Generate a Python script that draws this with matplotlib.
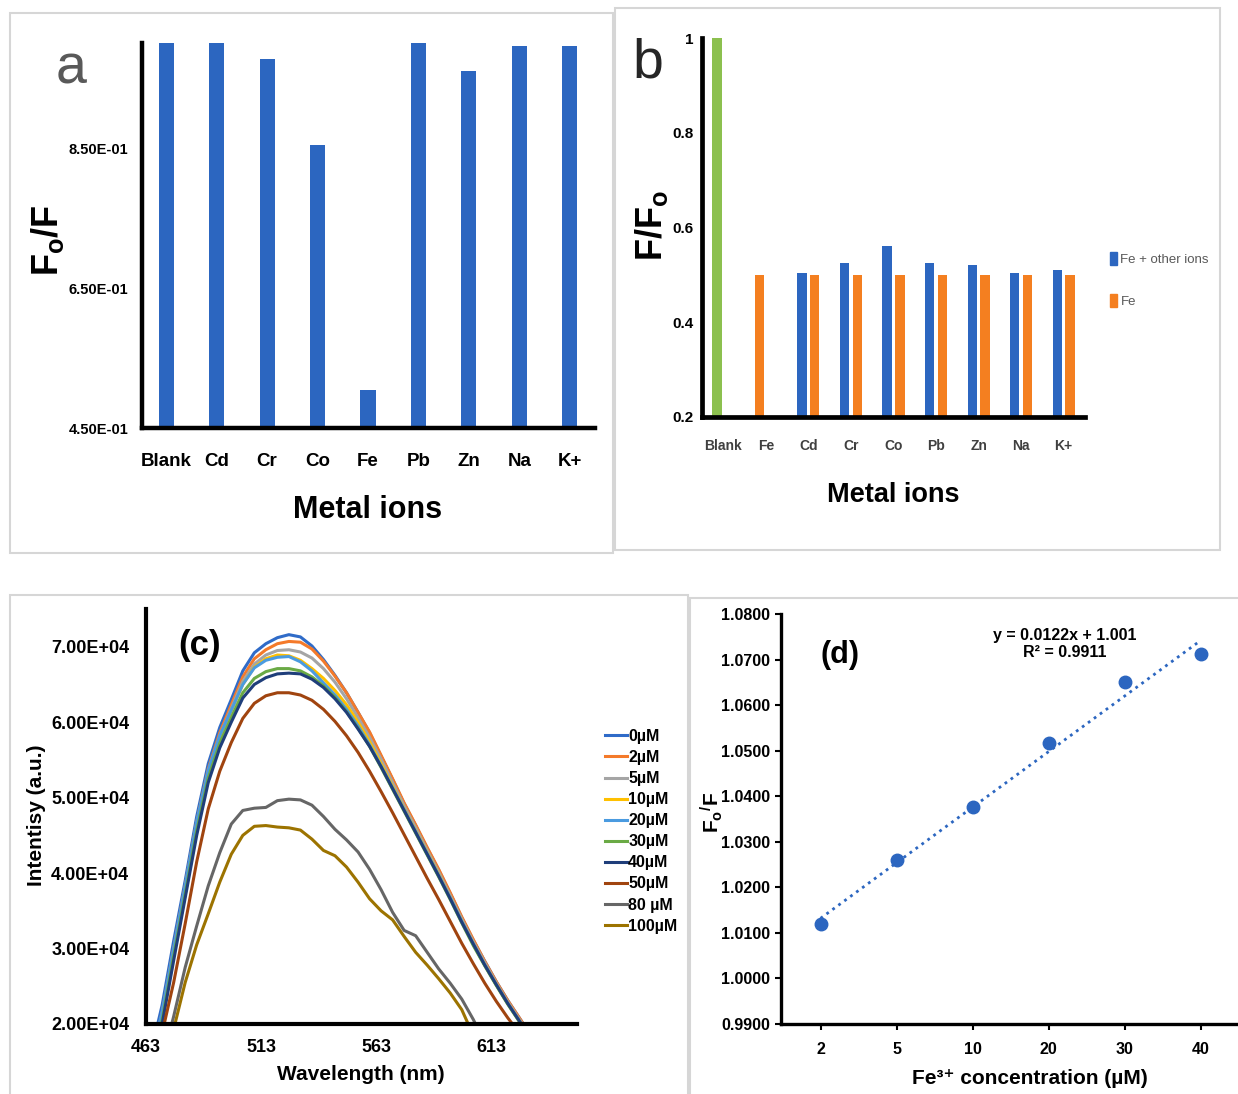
import numpy as np
import matplotlib
matplotlib.use("Agg")
import matplotlib.pyplot as plt
from matplotlib.patches import Rectangle, Patch

W, H = 1238, 1094

# ---- panel a: Fo/F for single ions
ions_a = ["Blank", "Cd", "Cr", "Co", "Fe", "Pb", "Zn", "Na", "K+"]
fof_a = [1.0, 1.0, 0.977, 0.855, 0.505, 1.0, 0.960, 0.996, 0.996]

# ---- panel b: F/Fo, Fe + other ions vs Fe alone
ions_b = ["Blank", "Fe", "Cd", "Cr", "Co", "Pb", "Zn", "Na", "K+"]
mix_b = [1.0, 0.5, 0.503, 0.526, 0.561, 0.526, 0.521, 0.503, 0.511]
fe_b = [np.nan, np.nan, 0.5, 0.5, 0.5, 0.5, 0.5, 0.5, 0.5]

# ---- panel c: emission spectra (intensity in thousands)
wavelength = [465, 470, 475, 480, 485, 490, 495, 500, 505, 510, 515, 520,
              525, 530, 535, 540, 545, 550, 555, 560, 565, 570, 575, 580,
              585, 590, 595, 600, 605, 610, 615, 620, 625, 630]
i_0 = [16.0, 22.5, 31.0, 39.0, 47.5, 54.5, 59.3, 63.0, 66.8, 69.2, 70.4, 71.2,
       71.6, 71.3, 70.1, 68.3, 66.2, 63.9, 61.3, 58.6, 55.5, 52.4, 49.2, 46.3,
       43.3, 40.4, 37.3, 34.1, 31.1, 28.3, 25.6, 23.1, 20.8, 18.5]
i_2 = [15.0, 21.5, 30.0, 38.3, 46.8, 53.8, 58.6, 62.3, 66.0, 68.4, 69.6, 70.4,
       70.7, 70.6, 69.7, 68.1, 66.1, 63.9, 61.3, 58.7, 55.6, 52.5, 49.3, 46.4,
       43.4, 40.5, 37.4, 34.2, 31.2, 28.3, 25.6, 23.1, 20.8, 18.5]
i_5 = [15.0, 21.3, 29.8, 38.0, 46.5, 53.5, 58.2, 61.8, 65.4, 67.7, 68.9, 69.5,
       69.6, 69.3, 68.5, 67.1, 65.3, 63.1, 60.6, 58.0, 55.1, 52.0, 48.9, 46.0,
       43.0, 40.1, 37.0, 33.9, 30.9, 28.1, 25.4, 22.9, 20.6, 18.3]
i_10 = [14.8, 21.0, 29.5, 37.8, 46.3, 53.3, 58.0, 61.5, 65.0, 67.3, 68.4, 68.9,
        68.8, 68.2, 67.1, 65.8, 64.2, 62.3, 60.0, 57.4, 54.5, 51.5, 48.5, 45.6,
        42.7, 39.8, 36.7, 33.6, 30.6, 27.8, 25.2, 22.7, 20.4, 18.1]
i_20 = [15.2, 21.6, 30.0, 38.3, 46.8, 53.6, 58.2, 61.6, 65.0, 67.2, 68.2, 68.6,
        68.7, 68.0, 66.8, 65.2, 63.6, 61.7, 59.5, 57.0, 54.2, 51.3, 48.4, 45.5,
        42.6, 39.7, 36.7, 33.6, 30.6, 27.8, 25.2, 22.7, 20.4, 18.1]
i_30 = [14.3, 20.5, 29.0, 37.2, 45.6, 52.6, 57.2, 60.6, 63.9, 65.8, 66.7, 67.1,
        67.1, 66.8, 66.0, 64.8, 63.3, 61.4, 59.2, 56.8, 54.0, 51.1, 48.2, 45.3,
        42.4, 39.5, 36.5, 33.4, 30.4, 27.7, 25.1, 22.6, 20.3, 18.0]
i_40 = [13.8, 20.0, 28.4, 36.7, 45.0, 52.0, 56.6, 60.0, 63.2, 65.0, 65.9, 66.4,
        66.5, 66.4, 65.7, 64.6, 63.1, 61.3, 59.1, 56.8, 54.1, 51.2, 48.3, 45.4,
        42.5, 39.6, 36.6, 33.5, 30.6, 27.8, 25.2, 22.7, 20.4, 18.1]
i_50 = [13.0, 18.8, 25.5, 33.3, 41.5, 48.5, 53.5, 57.3, 60.5, 62.5, 63.5, 63.9,
        63.9, 63.6, 62.9, 61.7, 60.1, 58.2, 56.0, 53.5, 50.8, 48.0, 45.1, 42.2,
        39.3, 36.5, 33.6, 30.7, 28.0, 25.4, 23.0, 20.8, 18.8, 16.8]
i_80 = [11.0, 15.0, 21.0, 27.5, 33.0, 38.3, 42.7, 46.5, 48.3, 48.6, 48.7, 49.6,
        49.8, 49.7, 49.0, 47.5, 45.8, 44.4, 42.8, 40.5, 37.8, 34.8, 32.4, 31.7,
        29.5, 27.3, 25.4, 23.3, 20.6, 17.5, 15.0, 13.0, 11.0, 9.0]
i_100 = [10.0, 13.5, 19.3, 25.5, 30.5, 34.6, 38.8, 42.5, 45.0, 46.2, 46.3, 46.1,
         46.0, 45.7, 44.5, 43.0, 42.3, 40.8, 38.8, 36.6, 35.0, 33.8, 31.6, 29.5,
         27.8, 26.0, 24.1, 21.9, 18.5, 16.0, 14.0, 12.0, 10.0, 8.0]
conc_labels = ["0µM", "2µM", "5µM", "10µM", "20µM", "30µM", "40µM", "50µM",
               "80 µM", "100µM"]
spectra = [i_0, i_2, i_5, i_10, i_20, i_30, i_40, i_50, i_80, i_100]
spec_colors = ["#2f6bc8", "#f47a2a", "#a5a5a5", "#ffc000", "#4a9be0",
               "#6aaa45", "#1f3e7a", "#a0440f", "#666666", "#9c7300"]

# ---- panel d: calibration
conc_d = ["2", "5", "10", "20", "30", "40"]
fof_d = [1.0120, 1.0260, 1.0376, 1.0517, 1.0650, 1.0712]
fit_slope, fit_icpt = 0.0122, 1.001

BLUE = "#2c66c0"
ORANGE = "#f47f20"
GREEN = "#8cc04f"

plt.rcParams["font.family"] = ["Liberation Sans", "DejaVu Sans"]
plt.rcParams["mathtext.fontset"] = "custom"
plt.rcParams["mathtext.rm"] = "Liberation Sans:bold"
plt.rcParams["mathtext.it"] = "Liberation Sans:bold"
plt.rcParams["mathtext.bf"] = "Liberation Sans:bold"


def box(l, t, r, b):
    return [l / W, 1 - b / H, (r - l) / W, (b - t) / H]


def fp(x, y):
    return x / W, 1 - y / H


def frame(fig, l, t, r, b):
    fig.add_artist(Rectangle((l / W, 1 - b / H), (r - l) / W, (b - t) / H,
                             transform=fig.transFigure, fill=False,
                             ec="#d6d6d6", lw=1.5))


def style_axes(ax, lw):
    for s in ("top", "right"):
        ax.spines[s].set_visible(False)
    for s in ("left", "bottom"):
        ax.spines[s].set_linewidth(lw)
        ax.spines[s].set_color("black")


fig = plt.figure(figsize=(W / 100, H / 100), dpi=100)

frame(fig, 10, 13, 613, 553)
frame(fig, 615, 8, 1220, 550)
frame(fig, 10, 595, 688, 1110)
frame(fig, 690, 598, 1250, 1110)

# ---------------- a
axa = fig.add_axes(box(142, 43, 595, 428))
xa = np.arange(len(ions_a))
axa.bar(xa, fof_a, width=0.3, color=BLUE)
axa.set_xlim(-0.48, 8.5)
axa.set_ylim(0.45, 1.0)
axa.set_yticks([0.45, 0.65, 0.85])
axa.set_yticklabels([f"{v:.2E}" for v in [0.45, 0.65, 0.85]],
                    weight="bold", size=10.5)
axa.set_xticks(xa)
axa.set_xticklabels(ions_a, weight="bold", size=13.5)
axa.tick_params(axis="x", length=0, pad=18)
axa.tick_params(axis="y", length=0, pad=10)
style_axes(axa, 3.2)
fig.text(*fp(368, 510), "Metal ions", weight="bold", size=22,
         ha="center", va="center")
fig.text(*fp(48, 240), r"F$_\mathrm{o}$/F", weight="bold", size=26,
         rotation=90, ha="center", va="center")
fig.text(*fp(71, 70), "a", size=40, color="#595959", ha="center", va="center")

# ---------------- b
axb = fig.add_axes(box(702, 38, 1085, 417))
xb = np.arange(len(ions_b))
axb.bar(xb - 0.15, mix_b, width=0.22, color=[GREEN, ORANGE] + [BLUE] * 7)
axb.bar(xb + 0.15, fe_b, width=0.22, color=ORANGE)
axb.set_xlim(-0.5, 8.5)
axb.set_ylim(0.2, 1.0)
axb.set_yticks([0.2, 0.4, 0.6, 0.8, 1.0])
axb.set_yticklabels(["0.2", "0.4", "0.6", "0.8", "1"], weight="bold",
                    size=11)
axb.set_xticks(xb)
axb.set_xticklabels(ions_b, weight="bold", size=10, color="#404040")
axb.tick_params(axis="x", length=0, pad=16)
axb.tick_params(axis="y", length=0, pad=6)
style_axes(axb, 3.4)
fig.legend(handles=[Patch(color=BLUE, label="Fe + other ions"),
                    Patch(color=ORANGE, label="Fe")],
           loc="upper left", bbox_to_anchor=fp(1098, 240), frameon=False,
           prop={"size": 9.5}, labelcolor="#595959",
           handlelength=0.55, handleheight=1.2, handletextpad=0.25,
           labelspacing=2.1)
fig.text(*fp(893, 495), "Metal ions", weight="bold", size=19.5,
         ha="center", va="center")
fig.text(*fp(651, 225), r"F/F$_\mathrm{o}$", weight="bold", size=26,
         rotation=90, ha="center", va="center")
fig.text(*fp(648, 64), "b", size=40, color="#262626", ha="center", va="center")

# ---------------- c
axc = fig.add_axes(box(146, 609, 577, 1024))
for lab, vals, col in zip(conc_labels, spectra, spec_colors):
    axc.plot(wavelength, np.array(vals) * 1000, color=col, lw=2.2, label=lab)
axc.set_xlim(463, 650)
axc.set_ylim(2e4, 7.5e4)
axc.set_xticks([463, 513, 563, 613])
axc.set_yticks([2e4, 3e4, 4e4, 5e4, 6e4, 7e4])
axc.set_yticklabels([f"{v:.2E}" for v in axc.get_yticks()])
axc.tick_params(labelsize=13, length=0)
axc.tick_params(axis="y", pad=12)
axc.tick_params(axis="x", pad=11)
for t in axc.get_xticklabels() + axc.get_yticklabels():
    t.set_fontweight("bold")
style_axes(axc, 3.0)
axc.legend(loc="upper left", bbox_to_anchor=fp(605, 729),
           bbox_transform=fig.transFigure, frameon=False,
           prop={"weight": "bold", "size": 11.5}, handlelength=1.4,
           handletextpad=0.05, labelspacing=0.38, borderpad=0,
           borderaxespad=0)
fig.text(*fp(200, 645), "(c)", weight="bold", size=25, ha="center",
         va="center")
fig.text(*fp(37, 815), "Intentisy (a.u.)", weight="bold", size=15,
         rotation=90, ha="center", va="center")
fig.text(*fp(361, 1075), "Wavelength (nm)", weight="bold", size=15,
         ha="center", va="center")

# ---------------- d
axd = fig.add_axes(box(781, 614, 1238, 1024))
xd = np.arange(len(conc_d))
axd.plot(xd, fof_d, "o", color=BLUE, ms=9, zorder=3)
xt = np.array([xd[0], xd[-1]])
axd.plot(xt, fit_slope * (xt + 1) + fit_icpt, ":", color=BLUE, lw=2)
axd.set_xlim(-0.52, 5.49)
axd.set_ylim(0.99, 1.08)
yd_ticks = np.round(np.arange(0.99, 1.0801, 0.01), 2)
axd.set_yticks(yd_ticks)
axd.set_yticklabels([f"{v:.4f}" for v in yd_ticks])
axd.set_xticks(xd)
axd.set_xticklabels(conc_d)
axd.tick_params(labelsize=11.5, length=4, width=1.5, direction="out")
axd.tick_params(axis="x", pad=9)
axd.tick_params(axis="y", pad=4)
for t in axd.get_xticklabels() + axd.get_yticklabels():
    t.set_fontweight("bold")
style_axes(axd, 2.4)
fig.text(*fp(1065, 644), "y = 0.0122x + 1.001\nR² = 0.9911", weight="bold",
         size=11.5, ha="center", va="center", multialignment="center")
fig.text(*fp(840, 655), "(d)", weight="bold", size=22, ha="center",
         va="center")
fig.text(*fp(712, 812), r"F$_\mathrm{o}$$^\mathrm{/}$F", weight="bold",
         size=15, rotation=90, ha="center", va="center")
fig.text(*fp(1030, 1078), "Fe³⁺ concentration (µM)",
         weight="bold", size=15, ha="center", va="center")

fig.savefig("out.png", dpi=100)
